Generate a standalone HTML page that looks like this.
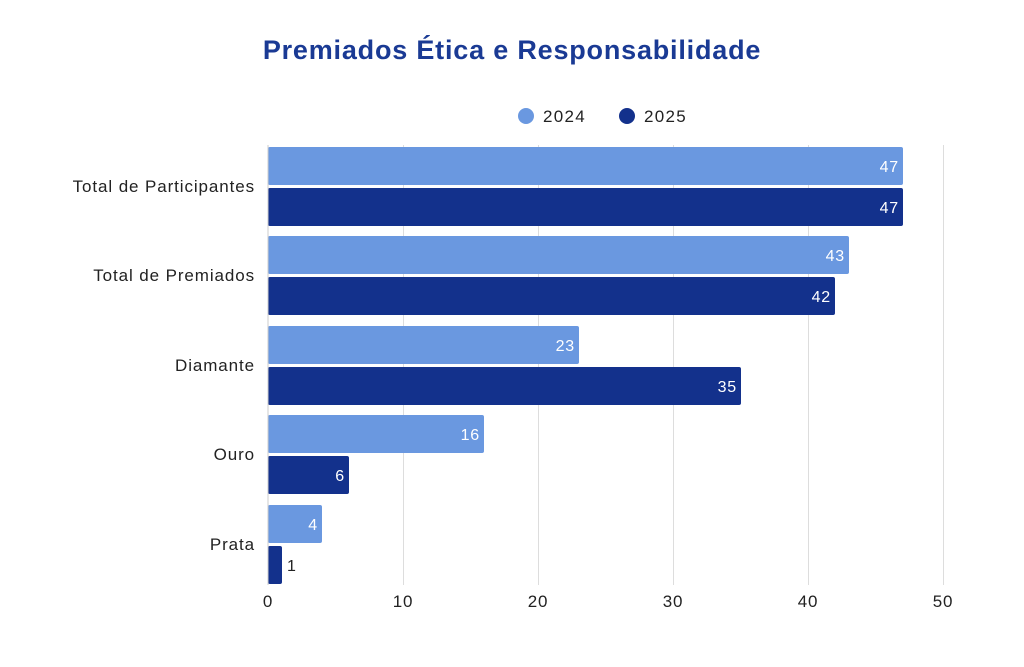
<!DOCTYPE html>
<html><head><meta charset="utf-8"><style>body{margin:0;background:#fff}svg{display:block}text{font-family:"Liberation Sans",sans-serif}</style></head>
<body>
<svg width="1024" height="667" viewBox="0 0 1024 667">
<text x="512" y="59" text-anchor="middle" font-size="27" font-weight="bold" fill="#1a3a94" letter-spacing="0.8">Premiados Ética e Responsabilidade</text>
<circle cx="526" cy="116" r="8" fill="#6a98e0"/><text x="543" y="122" font-size="17" fill="#222" letter-spacing="1.3">2024</text>
<circle cx="627" cy="116" r="8" fill="#13318c"/><text x="644" y="122" font-size="17" fill="#222" letter-spacing="1.3">2025</text>
<g stroke="#ddd" stroke-width="1">
<line x1="403.5" y1="145" x2="403.5" y2="585"/><line x1="538.5" y1="145" x2="538.5" y2="585"/><line x1="673.5" y1="145" x2="673.5" y2="585"/><line x1="808.5" y1="145" x2="808.5" y2="585"/><line x1="943.5" y1="145" x2="943.5" y2="585"/>
</g>
<g font-size="16" fill="#fff" text-anchor="end" letter-spacing="0.8">
<rect x="268" y="147" width="635" height="38" rx="2" fill="#6a98e0"/><text x="899" y="172">47</text>
<rect x="268" y="188" width="635" height="38" rx="2" fill="#13318c"/><text x="899" y="213">47</text>
<rect x="268" y="236" width="581" height="38" rx="2" fill="#6a98e0"/><text x="845" y="261">43</text>
<rect x="268" y="277" width="567" height="38" rx="2" fill="#13318c"/><text x="831" y="302">42</text>
<rect x="268" y="326" width="311" height="38" rx="2" fill="#6a98e0"/><text x="575" y="351">23</text>
<rect x="268" y="367" width="473" height="38" rx="2" fill="#13318c"/><text x="737" y="392">35</text>
<rect x="268" y="415" width="216" height="38" rx="2" fill="#6a98e0"/><text x="480" y="440">16</text>
<rect x="268" y="456" width="81" height="38" rx="2" fill="#13318c"/><text x="345" y="481">6</text>
<rect x="268" y="505" width="54" height="38" rx="2" fill="#6a98e0"/><text x="318" y="530">4</text>
<rect x="268" y="546" width="14" height="38" rx="2" fill="#13318c"/>
</g>
<text x="287" y="571" font-size="16" fill="#222">1</text>
<line x1="268" y1="145" x2="268" y2="585" stroke="#ccc"/>
<g font-size="17" fill="#222" text-anchor="end" letter-spacing="0.9">
<text x="255" y="192">Total de Participantes</text>
<text x="255" y="281">Total de Premiados</text>
<text x="255" y="371">Diamante</text>
<text x="255" y="460">Ouro</text>
<text x="255" y="550">Prata</text>
</g>
<g font-size="17" fill="#222" text-anchor="middle" letter-spacing="0.8">
<text x="268" y="607">0</text><text x="403" y="607">10</text><text x="538" y="607">20</text><text x="673" y="607">30</text><text x="808" y="607">40</text><text x="943" y="607">50</text>
</g>
</svg>
</body></html>
